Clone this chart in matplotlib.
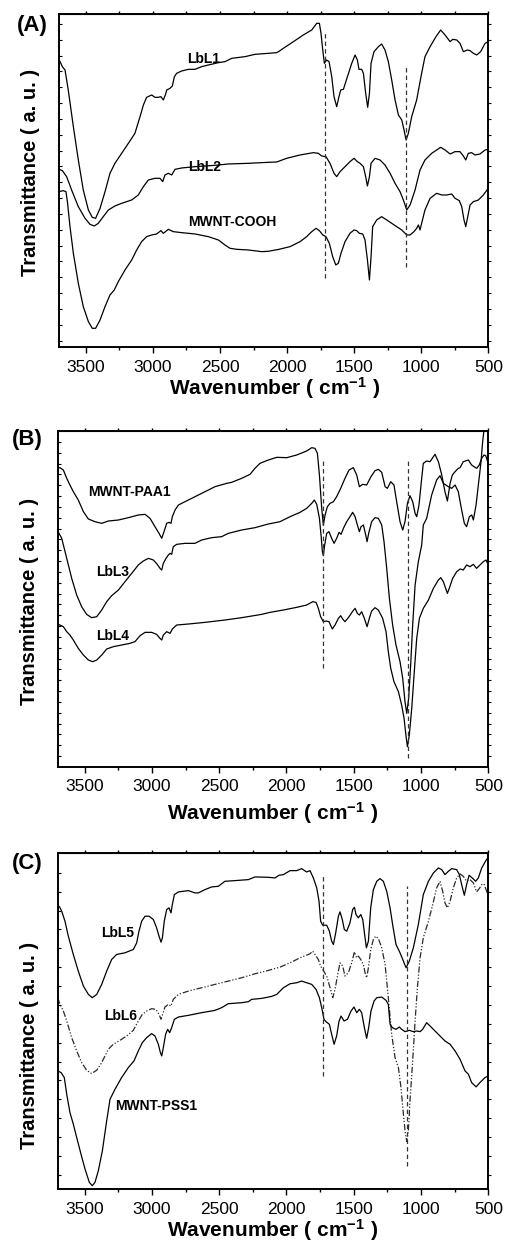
import numpy as np
import matplotlib
matplotlib.use("Agg")
import matplotlib.pyplot as plt
from matplotlib.ticker import FixedLocator, MultipleLocator

plt.rcParams['font.family'] = ['Liberation Sans', 'DejaVu Sans']
plt.rcParams['mathtext.fontset'] = 'custom'
plt.rcParams['mathtext.rm'] = 'Liberation Sans:bold'
plt.rcParams['mathtext.bf'] = 'Liberation Sans:bold'
plt.rcParams['mathtext.default'] = 'rm'

# ---------------- data: (wavenumber cm-1, transmittance a.u.) ----------------
# Panel A
lbl1 = [(3700,864),(3675,842),(3655,832),(3631,772),(3593,662),(3556,562),(3519,472),(3481,412),(3452,390),(3427,387),
        (3394,417),(3357,467),(3320,522),(3283,552),(3233,582),(3183,612),(3134,642),(3096,692),(3071,727),(3047,750),
        (3009,757),(2985,750),(2960,750),(2940,752),(2922,742),(2905,760),(2897,772),(2873,777),(2855,784),(2840,812),
        (2823,822),(2786,829),(2736,834),(2686,834),(2637,842),(2587,847),(2512,854),(2463,857),(2413,867),(2314,872),
        (2239,879),(2140,882),(2077,884),(2060,888),(2028,897),(1953,917),(1879,937),(1816,952),(1779,972),(1759,972),
        (1747,942),(1734,892),(1722,852),(1705,862),(1687,857),(1667,812),(1650,752),(1630,722),(1613,752),(1600,772),
        (1580,774),(1550,812),(1518,852),(1493,877),(1476,862),(1464,834),(1444,834),(1431,822),(1414,762),(1399,720),
        (1386,762),(1374,852),(1352,887),(1319,902),(1295,910),(1270,892),(1245,857),(1220,802),(1195,742),(1170,697),
        (1145,682),(1128,652),(1113,622),(1096,642),(1071,692),(1034,742),(997,822),(972,872),(934,902),(890,932),
        (855,952),(822,937),(785,917),(765,924),(735,922),(711,912),(686,887),(656,892),(636,890),(611,882),
        (586,877),(557,887),(524,912),(500,917)]
lbl2 = [(3700,534),(3675,530),(3643,512),(3606,472),(3556,422),(3506,387),(3469,369),(3437,364),(3407,372),(3370,392),
        (3332,412),(3283,424),(3233,432),(3158,442),(3109,457),(3071,482),(3034,502),(2985,507),(2947,507),(2927,497),
        (2910,517),(2885,522),(2860,517),(2835,534),(2786,538),(2686,542),(2537,546),(2438,550),(2289,552),(2140,555),
        (2077,556),(2003,567),(1903,577),(1804,584),(1767,582),(1742,574),(1710,572),(1680,552),(1650,522),(1630,512),
        (1605,527),(1568,542),(1531,557),(1501,567),(1476,557),(1456,552),(1431,542),(1414,512),(1401,484),(1386,512),
        (1374,552),(1344,567),(1307,562),(1270,547),(1232,522),(1195,492),(1158,467),(1133,442),(1108,412),(1083,427),
        (1046,472),(1009,532),(972,562),(922,582),(855,600),(822,592),(785,580),(748,587),(711,587),(686,574),
        (668,562),(649,582),(624,584),(599,577),(562,580),(524,592),(500,594)]
mwnt_cooh = [(3700,467),(3668,470),(3648,467),(3636,432),(3618,362),(3593,282),(3556,192),(3519,122),(3481,77),(3452,57),
        (3427,57),(3394,82),(3357,122),(3320,157),(3288,172),(3258,197),(3208,232),(3158,262),(3121,292),(3084,317),
        (3047,332),(3009,337),(2972,340),(2940,350),(2922,342),(2885,354),(2848,347),(2786,344),(2686,340),(2587,332),
        (2512,322),(2463,307),(2425,297),(2376,294),(2289,292),(2189,287),(2140,288),(2060,294),(1978,302),(1903,317),
        (1854,332),(1816,347),(1784,357),(1759,350),(1734,337),(1710,332),(1685,312),(1660,272),(1637,247),(1618,252),
        (1598,282),(1568,317),(1531,342),(1501,352),(1481,350),(1461,342),(1436,340),(1419,322),(1401,262),(1386,202),
        (1374,272),(1362,362),(1332,382),(1295,392),(1257,382),(1220,372),(1183,362),(1145,352),(1108,337),(1083,337),
        (1054,347),(1034,357),(1021,367),(1009,352),(997,372),(972,412),(934,447),(885,462),(847,457),(810,457),
        (773,460),(748,447),(716,440),(698,422),(681,382),(668,362),(653,392),(636,427),(611,437),(574,442),
        (537,457),(500,477)]

# Panel B
mwnt_paa1 = [(3700,895),(3683,897),(3658,890),(3633,865),(3609,845),(3584,825),(3547,800),(3509,765),(3472,743),(3423,735),
        (3373,730),(3324,737),(3249,740),(3175,747),(3101,755),(3051,757),(3014,745),(2977,720),(2947,700),(2927,685),
        (2910,705),(2890,730),(2873,733),(2858,730),(2848,750),(2828,770),(2803,785),(2729,800),(2630,820),(2531,840),
        (2444,850),(2407,853),(2333,865),(2271,877),(2234,895),(2197,910),(2135,920),(2072,928),(1998,927),(1924,935),
        (1850,947),(1812,957),(1788,955),(1770,940),(1755,875),(1738,775),(1726,725),(1713,755),(1696,780),(1676,790),
        (1651,795),(1627,810),(1597,835),(1565,865),(1535,890),(1503,897),(1478,875),(1458,840),(1433,847),(1404,845),
        (1372,870),(1342,888),(1317,892),(1292,883),(1267,840),(1250,835),(1225,855),(1201,845),(1181,795),(1156,735),
        (1136,710),(1119,735),(1101,790),(1082,813),(1062,795),(1044,760),(1032,750),(1015,785),(995,865),(983,910),
        (958,917),(933,915),(896,937),(871,915),(846,875),(822,825),(804,797),(784,850),(767,875),(747,885),
        (723,895),(710,897),(686,915),(648,920),(624,905),(606,900),(586,895),(567,905),(549,925),(532,935),
        (519,933),(505,915),(500,900)]
lbl3 = [(3700,707),(3670,685),(3633,625),(3596,565),(3559,515),(3522,480),(3485,457),(3448,447),(3410,450),(3373,470),
        (3336,495),(3299,513),(3249,530),(3200,555),(3150,580),(3101,605),(3064,617),(3026,625),(2989,620),(2960,607),
        (2940,595),(2927,590),(2915,610),(2895,625),(2878,635),(2865,640),(2853,637),(2841,660),(2816,667),(2754,670),
        (2680,670),(2630,680),(2556,687),(2482,690),(2432,700),(2333,710),(2234,717),(2135,728),(2048,735),(1973,750),
        (1899,763),(1850,775),(1812,790),(1793,800),(1775,787),(1755,745),(1743,695),(1733,645),(1726,633),(1716,665),
        (1701,700),(1684,705),(1664,685),(1646,670),(1627,685),(1609,703),(1594,697),(1577,715),(1552,735),(1528,750),
        (1508,763),(1490,750),(1473,725),(1458,705),(1446,720),(1428,725),(1411,695),(1401,675),(1389,700),(1367,735),
        (1342,747),(1317,745),(1292,725),(1275,675),(1255,595),(1235,505),(1211,425),(1186,365),(1156,315),(1136,265),
        (1119,195),(1106,160),(1092,205),(1077,305),(1062,425),(1044,545),(1020,615),(995,665),(983,725),(958,745),
        (921,815),(884,860),(859,873),(834,850),(797,840),(772,835),(747,845),(723,825),(698,770),(678,730),
        (661,720),(641,750),(623,755),(611,740),(591,785),(574,845),(554,915),(542,975),(532,1010),(520,1055)]
lbl4 = [(3700,427),(3683,425),(3658,420),(3633,405),(3609,395),(3584,380),(3547,355),(3509,335),(3472,320),(3440,315),
        (3410,320),(3373,335),(3336,353),(3287,360),(3225,365),(3163,370),(3126,375),(3088,393),(3051,403),(3002,403),
        (2965,397),(2940,385),(2927,380),(2915,395),(2890,405),(2865,400),(2848,413),(2816,425),(2729,428),(2605,433),
        (2457,440),(2333,447),(2184,457),(2122,463),(2023,470),(1924,478),(1850,485),(1805,495),(1780,493),(1763,475),
        (1746,450),(1726,435),(1706,437),(1684,435),(1659,413),(1639,425),(1614,445),(1597,453),(1582,443),(1565,435),
        (1540,447),(1510,465),(1490,475),(1473,460),(1458,455),(1441,465),(1421,445),(1401,420),(1384,445),(1367,467),
        (1342,477),(1317,470),(1285,445),(1260,405),(1243,345),(1225,295),(1201,255),(1168,225),(1144,185),(1126,145),
        (1111,90),(1101,60),(1087,95),(1069,175),(1050,285),(1032,385),(1012,445),(983,475),(945,500),(908,535),
        (871,560),(854,567),(834,555),(817,535),(804,520),(790,535),(765,565),(735,585),(710,593),(686,590),
        (661,605),(636,600),(611,607),(587,595),(562,605),(537,615),(517,620),(500,605)]

# Panel C
lbl5 = [(3700,853),(3685,847),(3670,835),(3646,805),(3621,760),(3584,705),(3547,655),(3509,610),(3472,585),(3443,575),
        (3410,585),(3373,615),(3336,655),(3299,690),(3262,705),(3200,710),(3138,720),(3113,740),(3096,775),(3076,805),
        (3051,820),(3021,820),(2989,810),(2965,785),(2947,760),(2932,742),(2922,755),(2908,805),(2890,840),(2873,845),
        (2858,830),(2848,855),(2833,885),(2803,893),(2729,897),(2680,890),(2655,890),(2605,900),(2556,908),(2506,910),
        (2457,925),(2382,927),(2283,930),(2234,938),(2135,937),(2085,935),(2056,943),(2023,945),(1973,957),(1924,957),
        (1887,963),(1850,953),(1825,957),(1800,935),(1775,905),(1758,865),(1746,805),(1731,793),(1701,793),(1681,775),
        (1664,745),(1651,735),(1634,770),(1614,820),(1602,833),(1585,810),(1570,780),(1552,775),(1528,800),(1508,840),
        (1495,847),(1483,825),(1466,815),(1448,825),(1433,810),(1419,765),(1406,725),(1391,745),(1374,845),(1354,900),
        (1329,925),(1305,933),(1280,925),(1255,895),(1230,845),(1211,795),(1186,735),(1156,710),(1131,685),(1111,665),
        (1087,685),(1057,725),(1020,795),(983,885),(945,925),(908,950),(871,965),(846,960),(822,945),(797,955),
        (772,963),(735,960),(715,945),(698,915),(678,883),(661,915),(643,943),(619,935),(594,925),(574,935),
        (549,965),(524,983),(505,995),(500,1000)]
lbl6 = [(3700,575),(3683,555),(3658,535),(3633,505),(3596,455),(3559,415),(3522,380),(3485,357),(3448,347),(3410,357),
        (3373,380),(3324,420),(3287,435),(3237,447),(3187,460),(3138,477),(3101,505),(3071,525),(3039,535),(3002,542),
        (2970,540),(2947,525),(2932,510),(2920,525),(2903,547),(2878,555),(2858,550),(2841,570),(2803,585),(2729,595),
        (2630,605),(2531,615),(2432,625),(2333,635),(2234,647),(2135,657),(2048,667),(1973,680),(1899,695),(1850,703),
        (1825,707),(1805,715),(1788,705),(1763,690),(1746,670),(1726,657),(1701,640),(1676,605),(1656,575),(1639,600),
        (1619,645),(1602,680),(1582,670),(1565,640),(1540,650),(1515,680),(1495,713),(1478,695),(1466,700),(1448,690),
        (1428,675),(1416,650),(1404,635),(1391,665),(1374,720),(1354,750),(1337,760),(1317,753),(1292,725),(1267,675),
        (1243,575),(1218,465),(1193,395),(1168,365),(1149,305),(1131,225),(1116,165),(1106,143),(1094,175),(1082,265),
        (1062,385),(1044,505),(1027,605),(1007,695),(983,755),(945,805),(913,855),(884,905),(859,925),(839,895),
        (822,860),(804,845),(784,865),(760,905),(735,935),(710,947),(686,940),(661,925),(636,930),(611,920),
        (587,893),(567,903),(549,915),(532,917),(512,895),(500,880)]
mwnt_pss1 = [(3700,355),(3675,350),(3651,335),(3633,285),(3609,230),(3584,195),(3559,155),(3527,105),(3497,60),(3465,20),
        (3443,10),(3423,20),(3398,55),(3368,115),(3336,205),(3311,270),(3274,300),(3225,335),(3175,365),(3133,385),
        (3101,415),(3071,440),(3039,455),(3002,467),(2977,460),(2952,435),(2937,410),(2927,400),(2915,425),(2898,465),
        (2883,480),(2868,470),(2853,485),(2833,510),(2803,517),(2729,522),(2630,530),(2531,537),(2482,545),(2432,557),
        (2333,560),(2283,563),(2259,570),(2184,573),(2110,579),(2072,585),(2023,605),(1973,617),(1924,620),(1887,625),
        (1850,620),(1812,615),(1780,600),(1755,575),(1738,545),(1721,510),(1706,503),(1681,495),(1664,465),(1646,435),
        (1627,460),(1609,505),(1594,520),(1572,505),(1547,510),(1520,535),(1498,547),(1478,530),(1458,540),(1441,530),
        (1421,485),(1404,453),(1389,485),(1372,535),(1349,565),(1329,575),(1292,577),(1260,567),(1243,555),(1230,495),
        (1213,485),(1186,480),(1161,487),(1144,480),(1119,473),(1087,477),(1057,473),(1032,475),(1007,473),(988,480),
        (958,500),(933,490),(896,475),(859,460),(822,445),(784,435),(747,415),(710,390),(673,355),(648,345),
        (624,320),(591,307),(562,320),(524,335),(500,340)]

# dashed marker lines: (wavenumber, y_from, y_to)
marks_a = [(1717, 207, 942), (1113, 242, 842)]
marks_b = [(1726, 295, 925), (1099, 25, 925)]
marks_c = [(1726, 340, 940), (1106, 70, 910)]

# curve labels: (text, wavenumber, y)
labels_a = [("LbL1", 2624, 864), ("LbL2", 2612, 542), ("MWNT-COOH", 2408, 377)]
labels_b = [("MWNT-PAA1", 3170, 825), ("LbL3", 3294, 585), ("LbL4", 3294, 392)]
labels_c = [("LbL5", 3254, 770), ("LbL6", 3232, 520), ("MWNT-PSS1", 2965, 250)]

xticks = [3500, 3000, 2500, 2000, 1500, 1000, 500]

W, H = 505, 1244
fig = plt.figure(figsize=(W / 100, H / 100), dpi=100)

def px_axes(x0, y0, x1, y1):
    return fig.add_axes([x0 / W, 1 - y1 / H, (x1 - x0) / W, (y1 - y0) / H])

panels = [
    dict(box=(59, 14, 488.3, 347.3), ylim=1000, yt=(20, 47.5), tag="(A)", tagpos=(32, 25),
         ylab=(30.5, 172), xlab=(275, 388),
         curves=[(lbl1, '-'), (lbl2, '-'), (mwnt_cooh, '-')], marks=marks_a, labels=labels_a),
    dict(box=(57.7, 431, 488.3, 766.7), ylim=1007, yt=(32, 32.5), tag="(B)", tagpos=(27, 440),
         ylab=(29.5, 601), xlab=(273, 813),
         curves=[(mwnt_paa1, '-'), (lbl3, '-'), (lbl4, '-')], marks=marks_b, labels=labels_b),
    dict(box=(57.7, 853, 488.3, 1189), ylim=1010, yt=(43, 56.7), tag="(C)", tagpos=(27, 863),
         ylab=(29.5, 1045), xlab=(273, 1230),
         curves=[(lbl5, '-'), (lbl6, 'dd'), (mwnt_pss1, '-')], marks=marks_c, labels=labels_c),
]

for p in panels:
    ax = px_axes(*p['box'])
    for data, ls in p['curves']:
        w = [d[0] for d in data]
        t = [d[1] for d in data]
        if ls == 'dd':
            ax.plot(w, t, color='#2a2a2a', lw=0.9, linestyle=(0, (5, 1.5, 1, 1.5, 1, 1.5)))
        else:
            ax.plot(w, t, color='black', lw=0.9)
    for (wx, y0, y1) in p['marks']:
        ax.plot([wx, wx], [y0, y1], color='#333333', lw=0.9, linestyle=(0, (3.5, 2.5)))
    for (txt, wx, yy) in p['labels']:
        ax.text(wx, yy, txt, fontsize=10, fontweight='bold', ha='center', va='center')
    ax.set_xlim(3700, 500)
    ax.set_ylim(0, p['ylim'])
    ax.xaxis.set_major_locator(FixedLocator(xticks))
    ax.xaxis.set_minor_locator(MultipleLocator(250))
    ax.set_xticklabels([str(v) for v in xticks])
    start, step = p['yt']
    yt = np.arange(start, p['ylim'] - 5, step)
    ax.yaxis.set_major_locator(FixedLocator(yt))
    ax.set_yticklabels([])
    ax.tick_params(axis='x', which='major', direction='out', length=4, width=1, labelsize=12.5, pad=5)
    ax.tick_params(axis='x', which='minor', direction='out', length=2.5, width=1)
    ax.tick_params(axis='y', which='major', direction='in', length=2.5, width=0.8, left=True, right=False)
    for s in ax.spines.values():
        s.set_linewidth(1.2)
    # right and top ticks pointing outwards
    axr = ax.twinx()
    axr.set_ylim(0, p['ylim'])
    axr.yaxis.set_major_locator(FixedLocator(yt))
    axr.set_yticklabels([])
    axr.tick_params(axis='y', direction='out', length=2, width=0.8)
    axt = ax.secondary_xaxis('top')
    axt.xaxis.set_major_locator(FixedLocator(xticks))
    axt.xaxis.set_minor_locator(MultipleLocator(250))
    axt.tick_params(axis='x', which='both', direction='out', length=2, width=1, labeltop=False)
    for s in axr.spines.values():
        s.set_linewidth(1.2)

    tx, ty = p['tagpos']
    fig.text(tx / W, 1 - ty / H, p['tag'], fontsize=16, fontweight='bold', ha='center', va='center')
    lx, ly = p['ylab']
    fig.text(lx / W, 1 - ly / H, "Transmittance ( a. u. )", fontsize=14.5, fontweight='bold',
             rotation=90, ha='center', va='center')
    xx, xy = p['xlab']
    fig.text(xx / W, 1 - xy / H, r"Wavenumber ( cm$^{-1}$ )", fontsize=15, fontweight='bold',
             ha='center', va='center')

fig.savefig("out.png", dpi=100)
